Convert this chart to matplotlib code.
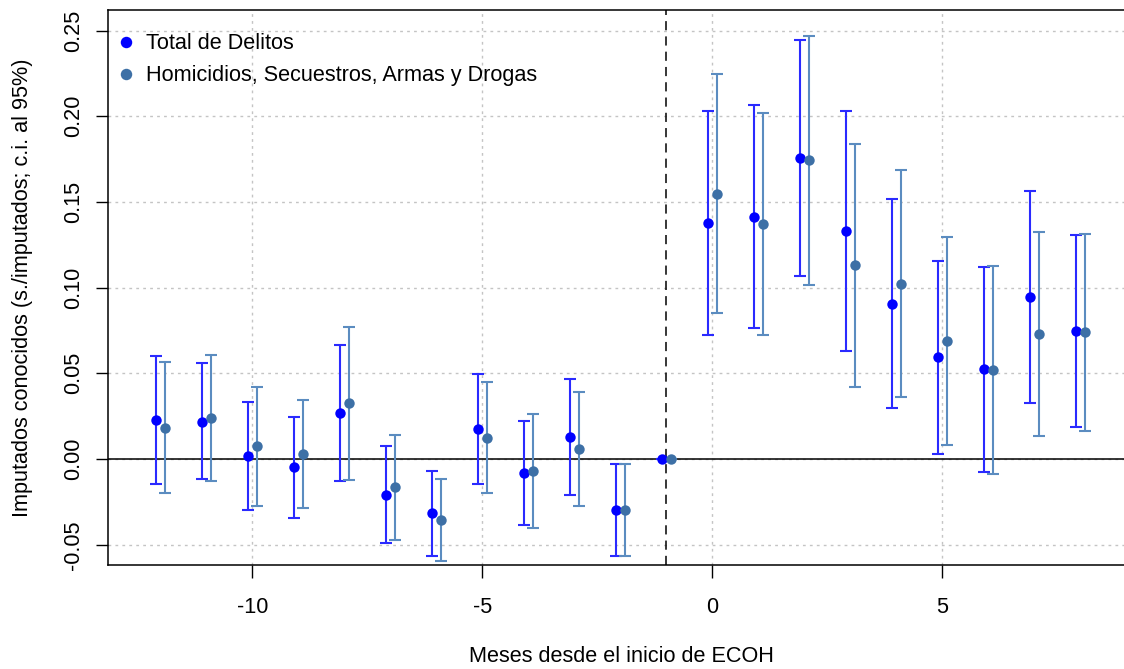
import numpy as np
import matplotlib
matplotlib.use('Agg')
from matplotlib import pyplot as plt

plt.rcParams['font.family'] = ['Liberation Sans', 'DejaVu Sans']
plt.rcParams['axes.unicode_minus'] = False

# meses relativos al inicio de ECOH
meses = [-12, -11, -10, -9, -8, -7, -6, -5, -4, -3, -2, -1, 0, 1, 2, 3, 4, 5, 6, 7, 8]

# Total de Delitos
total_est = [0.0228, 0.0218, 0.0016, -0.0049, 0.0266, -0.0208, -0.0317, 0.0173, -0.0084, 0.0130, -0.0299, 0.0,
             0.1375, 0.1414, 0.1756, 0.1328, 0.0906, 0.0593, 0.0523, 0.0945, 0.0745]
total_hi = [0.0603, 0.0558, 0.0333, 0.0245, 0.0663, 0.0074, -0.0070, 0.0494, 0.0224, 0.0469, -0.0031, 0.0,
            0.2028, 0.2063, 0.2445, 0.2028, 0.1515, 0.1155, 0.1120, 0.1566, 0.1305]
total_lo = [-0.0146, -0.0117, -0.0298, -0.0342, -0.0128, -0.0488, -0.0566, -0.0146, -0.0387, -0.0210, -0.0566, 0.0,
            0.0722, 0.0766, 0.1066, 0.0628, 0.0298, 0.0031, -0.0074, 0.0327, 0.0185]

# Homicidios, Secuestros, Armas y Drogas
hsad_est = [0.0183, 0.0241, 0.0074, 0.0029, 0.0325, -0.0165, -0.0358, 0.0124, -0.0070, 0.0058, -0.0299, 0.0,
            0.1548, 0.1373, 0.1744, 0.1130, 0.1023, 0.0688, 0.0521, 0.0729, 0.0739]
hsad_hi = [0.0564, 0.0607, 0.0422, 0.0344, 0.0770, 0.0140, -0.0119, 0.0449, 0.0263, 0.0393, -0.0031, 0.0,
           0.2248, 0.2021, 0.2470, 0.1840, 0.1684, 0.1297, 0.1128, 0.1326, 0.1315]
hsad_lo = [-0.0200, -0.0126, -0.0272, -0.0288, -0.0121, -0.0475, -0.0597, -0.0200, -0.0405, -0.0272, -0.0566, 0.0,
           0.0850, 0.0723, 0.1017, 0.0422, 0.0360, 0.0080, -0.0088, 0.0132, 0.0163]

series = [
    ('Total de Delitos', total_est, total_lo, total_hi, -0.1, '#0000ff', '#2a2aff'),
    ('Homicidios, Secuestros, Armas y Drogas', hsad_est, hsad_lo, hsad_hi, 0.1, '#3d70a6', '#5b8cc0'),
]

W, H = 1124, 669
FS = 15.6
fig = plt.figure(figsize=(W / 100, H / 100), dpi=100)
ax = fig.add_axes([108 / W, 1 - 565 / H, (1134 - 108) / W, (565 - 10) / H])

xs = np.array(meses, dtype=float)
for label, est, lo, hi, off, c_pt, c_bar in series:
    est = np.array(est)
    err = np.vstack([est - np.array(lo), np.array(hi) - est])
    ax.errorbar(xs + off, est, yerr=err, fmt='none', ecolor=c_bar, elinewidth=1.5,
                capsize=4, capthick=1.5, zorder=3)
    ax.plot(xs + off, est, 'o', color=c_pt, markersize=7.5, label=label, zorder=4,
            markeredgewidth=0)

ax.axhline(0, color='black', lw=1.1, zorder=2)
ax.axvline(-1, color='black', lw=1.1, ls=(0, (6, 4)), zorder=2)

ax.set_xlim(-13.14, 9.17)
ax.set_ylim(-0.0618, 0.262)
ax.set_xticks([-10, -5, 0, 5])
ax.set_yticks([-0.05, 0.0, 0.05, 0.10, 0.15, 0.20, 0.25])
ax.set_yticklabels(['-0.05', '0.00', '0.05', '0.10', '0.15', '0.20', '0.25'], rotation=90, va='center')
ax.grid(True, color='#c4c4c4', ls=(0, (2, 3)), lw=1)
ax.set_axisbelow(True)

ax.tick_params(axis='both', direction='out', length=9, width=1, labelsize=FS, colors='black')
ax.tick_params(axis='x', pad=14)
ax.tick_params(axis='y', pad=8)
for s in ax.spines.values():
    s.set_linewidth(1.1)
ax.spines['right'].set_visible(False)

ax.set_xlabel('Meses desde el inicio de ECOH', fontsize=FS, labelpad=20)
ax.set_ylabel('Imputados conocidos (s./imputados; c.i. al 95%)', fontsize=FS, labelpad=22)

ax.legend(loc='upper left', bbox_to_anchor=(-0.008, 0.985), frameon=False, fontsize=FS,
          handletextpad=0.45, handlelength=1.0, labelspacing=0.5, borderaxespad=0.3,
          markerscale=1.1)

fig.savefig('out.png', dpi=100)
